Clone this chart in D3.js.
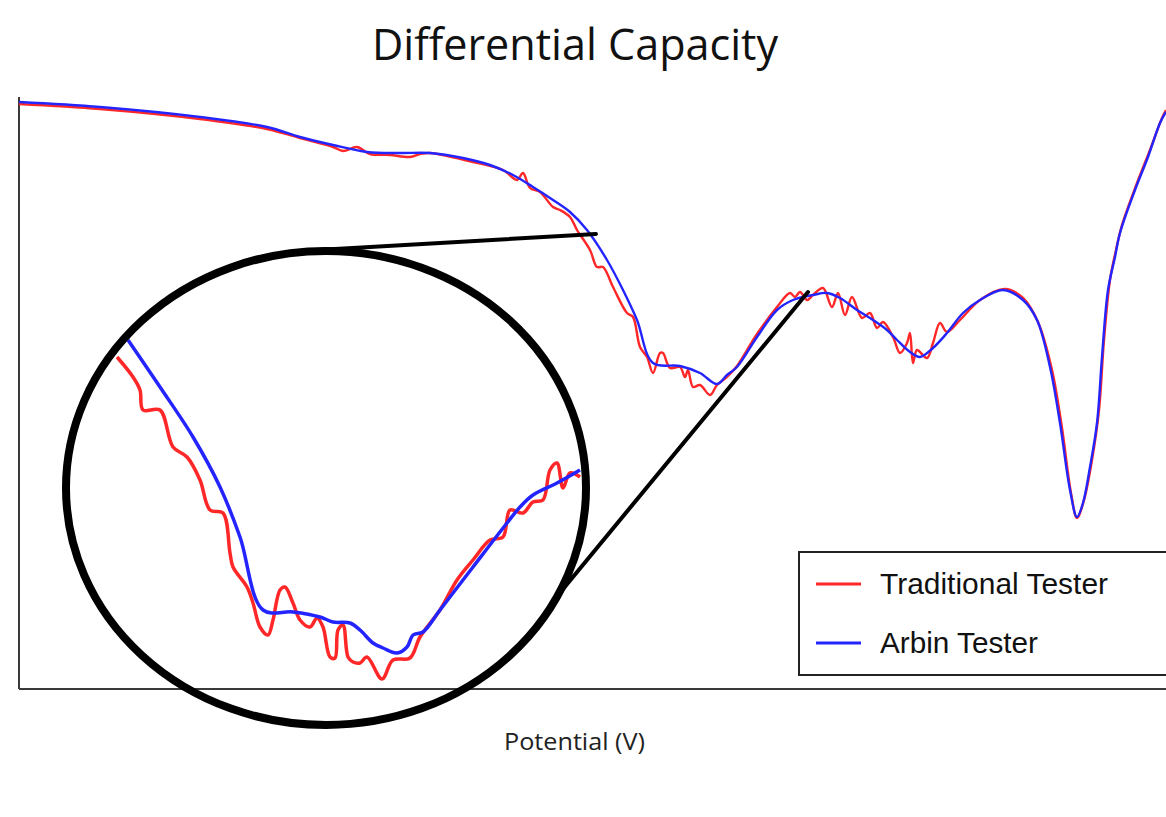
<!DOCTYPE html>
<html>
<head>
<meta charset="utf-8">
<script src="https://cdn.jsdelivr.net/npm/d3@7"></script>
<style>
  body { margin: 0; background: #fff; }
  svg { display: block; }
</style>
</head>
<body>
<div id="chart"></div>
<script>
// Values: [potential, dQ/dV] in plot units
// (potential 0..1147 across the axis, dQ/dV 0..592 up the axis)
const traditional = [
  [0,585],[81,580],[181,570],[248,560],[281,551],[314,542],[324,538],[338,542],[351,535],[371,534],
  [391,532],[401,535],[411,536],[454,527],[484,519],[498,509],[504,516],[511,501],[521,497],[534,482],
  [541,479],[551,472],[558,459],[571,439],[578,422],[584,422],[594,402],[608,376],[614,372],[621,342],
  [628,332],[634,316],[641,336],[644,336],[651,321],[661,322],[666,312],[669,319],[674,302],[681,304],
  [691,294],[698,304],[708,312],[718,323],[738,355],[758,382],[771,396],[776,392],[781,397],[788,389],
  [794,394],[804,401],[813,382],[819,396],[826,374],[833,392],[843,371],[851,376],[858,361],[864,367],
  [874,352],[881,336],[888,346],[891,356],[894,326],[898,339],[908,331],[914,346],[921,366],[928,357],
  [941,369],[961,389],[986,400],[1004,391],[1019,367],[1033,319],[1043,261],[1052,196],[1058,171],[1065,189],
  [1073,229],[1080,279],[1085,349],[1091,409],[1097,439],[1103,464],[1118,506],[1131,539],[1143,571],[1147,579]
];

const arbin = [
  [0,587],[81,582],[181,572],[248,562],[281,552],[314,544],[348,537],[381,536],[411,536],[444,531],
  [471,524],[494,514],[514,502],[534,489],[551,477],[568,459],[588,429],[604,399],[618,369],[634,326],
  [661,323],[681,316],[698,305],[708,314],[718,322],[738,352],[758,379],[774,389],[794,394],[808,396],
  [821,391],[838,379],[854,369],[868,359],[878,349],[891,337],[901,332],[914,341],[928,356],[944,376],
  [961,389],[984,399],[1004,389],[1018,369],[1031,322],[1041,266],[1051,199],[1058,172],[1064,186],[1071,222],
  [1078,266],[1083,332],[1089,399],[1096,432],[1101,456],[1116,499],[1129,532],[1141,566],[1147,577]
];

// magnified detail shown inside the loupe
const traditionalZoom = [
  [98,332],[114,312],[121,299],[124,279],[141,279],[154,242],[168,232],[181,209],[191,179],[204,176],
  [211,136],[214,122],[228,102],[234,86],[241,62],[249,54],[254,69],[261,99],[266,102],[274,86],
  [281,69],[291,62],[298,71],[304,62],[311,32],[316,31],[319,59],[324,64],[329,32],[334,27],
  [341,26],[348,32],[363,10],[374,29],[391,31],[401,52],[421,79],[438,109],[454,129],[471,149],
  [484,152],[491,179],[504,176],[514,187],[524,189],[531,219],[538,226],[544,201],[551,216],[561,212]
];

const arbinZoom = [
  [109,349],[141,302],[174,252],[201,202],[221,152],[244,79],[274,77],[301,72],[314,67],[331,66],
  [341,59],[354,46],[364,41],[378,36],[388,42],[394,54],[404,57],[421,79],[454,122],[488,166],
  [501,182],[514,194],[538,206],[561,219]
];

const seriesNames = ["Traditional Tester", "Arbin Tester"];
const seriesColors = ["#ff2727", "#2424ff"];

// canvas
const vbWidth = 1166, vbHeight = 817;
const plot = { left: 19, right: 1166, top: 97, bottom: 689 };

const svg = d3.select("#chart").append("svg")
  .attr("width", vbWidth)
  .attr("height", vbHeight)
  .attr("viewBox", `0 0 ${vbWidth} ${vbHeight}`);

// scales
const x = d3.scaleLinear().domain([0, 1147]).range([plot.left, plot.right]);
const y = d3.scaleLinear().domain([0, 592]).range([plot.bottom, plot.top]);

const line = d3.line()
  .x(d => x(d[0]))
  .y(d => y(d[1]))
  .curve(d3.curveCatmullRom.alpha(0.5));

// axes: bare lines, no ticks
svg.append("line")
  .attr("x1", plot.left).attr("x2", plot.left)
  .attr("y1", plot.top).attr("y2", plot.bottom)
  .attr("stroke", "#3a3a3a").attr("stroke-width", 2);

svg.append("line")
  .attr("x1", plot.left).attr("x2", plot.right)
  .attr("y1", plot.bottom).attr("y2", plot.bottom)
  .attr("stroke", "#3a3a3a").attr("stroke-width", 2);

// main curves (red under blue)
[traditional, arbin].forEach((data, i) => {
  svg.append("path")
    .datum(data)
    .attr("fill", "none")
    .attr("stroke", seriesColors[i])
    .attr("stroke-width", 2.4)
    .attr("stroke-linejoin", "round")
    .attr("d", line);
});

// loupe curves
[traditionalZoom, arbinZoom].forEach((data, i) => {
  svg.append("path")
    .datum(data)
    .attr("fill", "none")
    .attr("stroke", seriesColors[i])
    .attr("stroke-width", 3.5)
    .attr("stroke-linejoin", "round")
    .attr("d", line);
});

// loupe outline and its two connector lines
const loupe = { cx: 326, cy: 488, rx: 260, ry: 237 };
svg.append("ellipse")
  .attr("cx", loupe.cx).attr("cy", loupe.cy)
  .attr("rx", loupe.rx).attr("ry", loupe.ry)
  .attr("fill", "none")
  .attr("stroke", "#000")
  .attr("stroke-width", 8);

const connectors = [
  [[300, 251], [596, 234]],
  [[554, 600], [808, 292]]
];
connectors.forEach(c => {
  svg.append("line")
    .attr("x1", c[0][0]).attr("y1", c[0][1])
    .attr("x2", c[1][0]).attr("y2", c[1][1])
    .attr("stroke", "#000")
    .attr("stroke-width", 4)
    .attr("stroke-linecap", "round");
});

// title
svg.append("text")
  .attr("x", 372)
  .attr("y", 60)
  .attr("textLength", 406)
  .attr("lengthAdjust", "spacingAndGlyphs")
  .style("font-family", "'Open Sans', sans-serif")
  .style("font-size", "44px")
  .attr("fill", "#111")
  .text("Differential Capacity");

// x label
svg.append("text")
  .attr("x", 504)
  .attr("y", 750)
  .attr("textLength", 141)
  .attr("lengthAdjust", "spacingAndGlyphs")
  .style("font-family", "'Open Sans', sans-serif")
  .style("font-size", "24px")
  .attr("fill", "#222")
  .text("Potential (V)");

// legend
const legend = svg.append("g");
legend.append("rect")
  .attr("x", 799).attr("y", 552)
  .attr("width", 420).attr("height", 123)
  .attr("fill", "#fff")
  .attr("stroke", "#222")
  .attr("stroke-width", 2);

const legendRows = [584, 643];
const legendWidths = [228, 158];
seriesNames.forEach((name, i) => {
  legend.append("line")
    .attr("x1", 816).attr("x2", 861)
    .attr("y1", legendRows[i]).attr("y2", legendRows[i])
    .attr("stroke", seriesColors[i])
    .attr("stroke-width", 3);
  legend.append("text")
    .attr("x", 880)
    .attr("y", legendRows[i] + 10)
    .attr("textLength", legendWidths[i])
    .attr("lengthAdjust", "spacingAndGlyphs")
    .style("font-family", "'Liberation Sans', Arial, sans-serif")
    .style("font-size", "29px")
    .attr("fill", "#111")
    .text(name);
});
</script>
</body>
</html>
